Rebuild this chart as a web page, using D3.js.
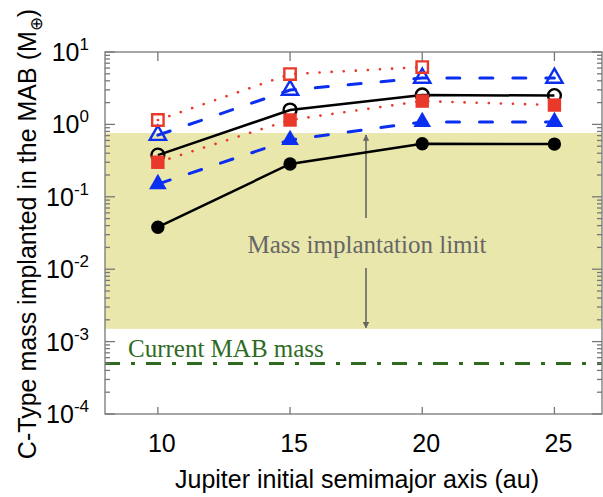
<!DOCTYPE html>
<html><head><meta charset="utf-8">
<script src="https://cdn.jsdelivr.net/npm/d3@7"></script>
<style>body{margin:0;background:#fff}svg{display:block}</style>
</head><body>
<svg id="c" width="603" height="497"></svg>
<script>
// ---- data ----
const axisA = [10, 15, 20, 25];
const blackFilled = [0.038, 0.284, 0.54, 0.535];
const blackOpen   = [0.377, 1.58, 2.55, 2.5];
const redFilled   = [0.30, 1.15, 2.1, 1.85];
const redOpen     = [1.15, 4.95, 6.2];
const blueOpen    = [0.71, 2.98, 4.37, 4.37];
const blueFilled  = [0.15, 0.61, 1.08, 1.08];
const limitBand   = [0.0015, 0.76];
const currentMAB  = 5e-4;
const xTicks = [10, 15, 20, 25];
const yTicks = [-4, -3, -2, -1, 0, 1];

const svg = d3.select("#c");
const L = 105, R = 602, T = 52, B = 414;
const x = d3.scaleLinear().domain([8, 26.8]).range([L, R]);
const y = d3.scaleLog().domain([1e-4, 1e1]).range([B, T]);

const C = {black:"#000", red:"#e8392a", blue:"#0a2ff0", green:"#2e6b1f", band:"#e9e7ac", frame:"#777"};

// band
svg.append("rect").attr("x", L).attr("width", R - L)
  .attr("y", y(limitBand[1])).attr("height", y(limitBand[0]) - y(limitBand[1]))
  .attr("fill", C.band);

// current MAB line
svg.append("line").attr("x1", L).attr("x2", R).attr("y1", y(currentMAB)).attr("y2", y(currentMAB))
  .attr("stroke", C.green).attr("stroke-width", 3).attr("stroke-dasharray", "15 11 4 11");

// annotations
const serif = "'Liberation Serif','Times New Roman',serif";
svg.append("text").attr("x", 128).attr("y", 357).attr("font-family", serif).attr("font-size", 25)
  .attr("fill", C.green).text("Current MAB mass");
svg.append("text").attr("x", 367).attr("y", 253).attr("text-anchor", "middle").attr("font-family", serif)
  .attr("font-size", 25).attr("fill", "#666").text("Mass implantation limit");

const defs = svg.append("defs");
defs.append("marker").attr("id", "ah").attr("viewBox", "0 0 10 10").attr("refX", 9).attr("refY", 5)
  .attr("markerWidth", 4).attr("markerHeight", 4).attr("orient", "auto")
  .append("path").attr("d", "M0,0L10,5L0,10Z").attr("fill", "#666");
const ax = 366;
svg.append("line").attr("x1", ax).attr("x2", ax).attr("y1", 218).attr("y2", y(limitBand[1]) + 2)
  .attr("stroke", "#666").attr("stroke-width", 1.6).attr("marker-end", "url(#ah)");
svg.append("line").attr("x1", ax).attr("x2", ax).attr("y1", 268).attr("y2", y(limitBand[0]) - 1)
  .attr("stroke", "#666").attr("stroke-width", 1.6).attr("marker-end", "url(#ah)");

// series
const series = [
  {v: blackOpen, color: C.black, dash: null, w: 2.5, sym: d3.symbolCircle, size: 130, filled: false},
  {v: blackFilled, color: C.black, dash: null, w: 2.5, sym: d3.symbolCircle, size: 140, filled: true},
  {v: blueOpen, color: C.blue, dash: "13 20", w: 3, sym: d3.symbolTriangle, size: 115, filled: false},
  {v: blueFilled, color: C.blue, dash: "13 20", w: 3, sym: d3.symbolTriangle, size: 135, filled: true},
  {v: redOpen, color: C.red, dash: "0.1 12", w: 2.6, sym: d3.symbolSquare, size: 130, filled: false},
  {v: redFilled, color: C.red, dash: "0.1 12", w: 2.6, sym: d3.symbolSquare, size: 180, filled: true},
];
const line = d3.line().x((d, i) => x(axisA[i])).y(d => y(d));
series.forEach(s => {
  svg.append("path").attr("d", line(s.v)).attr("fill", "none").attr("stroke", s.color)
    .attr("stroke-width", s.w).attr("stroke-dasharray", s.dash).attr("stroke-linecap", s.dash ? "round" : "butt");
});
series.forEach(s => {
  svg.selectAll(null).data(s.v).enter().append("path")
    .attr("transform", (d, i) => `translate(${x(axisA[i])},${y(d)})`)
    .attr("d", d3.symbol().type(s.sym).size(s.size))
    .attr("fill", s.filled ? s.color : "none")
    .attr("stroke", s.color).attr("stroke-width", s.filled ? 0 : 2.4);
});

// frame & ticks
const g = svg.append("g").attr("stroke", C.frame).attr("stroke-width", 1.3);
g.append("rect").attr("x", L).attr("y", T).attr("width", R - L).attr("height", B - T).attr("fill", "none");
xTicks.forEach(t => {
  g.append("line").attr("x1", x(t)).attr("x2", x(t)).attr("y1", B).attr("y2", B - 7);
  g.append("line").attr("x1", x(t)).attr("x2", x(t)).attr("y1", T).attr("y2", T + 9);
});
yTicks.forEach(e => {
  const yy = y(Math.pow(10, e));
  g.append("line").attr("x1", L).attr("x2", L + 10).attr("y1", yy).attr("y2", yy);
  g.append("line").attr("x1", R).attr("x2", R - 10).attr("y1", yy).attr("y2", yy);
  if (e < 1) for (let m = 2; m <= 9; m++) {
    const ym = y(m * Math.pow(10, e));
    g.append("line").attr("x1", L).attr("x2", L + 5).attr("y1", ym).attr("y2", ym);
    g.append("line").attr("x1", R).attr("x2", R - 5).attr("y1", ym).attr("y2", ym);
  }
});

// tick labels
const sans = "'Liberation Sans',Arial,Helvetica,sans-serif";
xTicks.forEach(t => {
  svg.append("text").attr("x", x(t) + 4).attr("y", 452).attr("text-anchor", "middle")
    .attr("font-family", sans).attr("font-size", 25).attr("fill", "#000").text(t);
});
yTicks.forEach(e => {
  const tx = svg.append("text").attr("x", 89).attr("y", y(Math.pow(10, e)) + 9).attr("text-anchor", "end")
    .attr("font-family", sans).attr("font-size", 25).attr("fill", "#000");
  tx.append("tspan").text("10");
  tx.append("tspan").attr("dy", -11).attr("font-size", 17).text(e);
});

// axis labels
svg.append("text").attr("x", 357).attr("y", 488).attr("text-anchor", "middle")
  .attr("font-family", sans).attr("font-size", 25).attr("fill", "#000").text("Jupiter initial semimajor axis (au)");
const yl = svg.append("text").attr("transform", "translate(36,234) rotate(-90)").attr("text-anchor", "middle")
  .attr("font-family", sans).attr("font-size", 25).attr("fill", "#000");
yl.append("tspan").text("C-Type mass implanted in the MAB (M");
yl.append("tspan").attr("font-size", 17).attr("dy", 6).text("⊕");
yl.append("tspan").attr("dy", -6).text(")");
</script>
</body></html>
